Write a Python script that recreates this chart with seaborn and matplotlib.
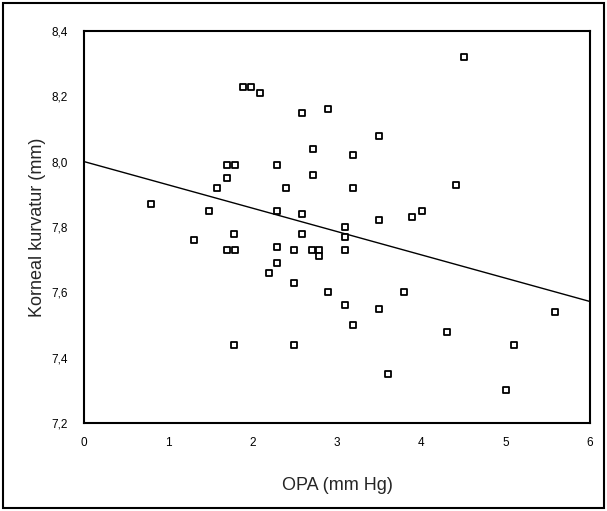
import matplotlib
matplotlib.use("Agg")
import matplotlib.pyplot as plt
import seaborn as sns
import pandas as pd
from matplotlib.patches import Rectangle

# Data
opa = [4.50, 1.88, 1.98, 2.09, 2.89, 2.59, 3.50, 2.71, 3.19, 1.69,
       1.79, 2.29, 2.71, 1.69, 2.39, 1.58, 3.19, 4.41, 0.79, 1.48,
       2.29, 2.59, 4.01, 3.89, 3.50, 3.09, 1.78, 2.59, 3.09, 1.30,
       1.69, 1.79, 2.29, 2.49, 2.70, 2.79, 2.79, 3.09, 2.29, 2.19,
       2.49, 2.89, 3.79, 3.09, 3.50, 5.59, 3.19, 4.30, 1.78, 2.49,
       5.10, 3.61, 5.00]
kurvatur = [8.32, 8.23, 8.23, 8.21, 8.16, 8.15, 8.08, 8.04, 8.02, 7.99,
            7.99, 7.99, 7.96, 7.95, 7.92, 7.92, 7.92, 7.93, 7.87, 7.85,
            7.85, 7.84, 7.85, 7.83, 7.82, 7.80, 7.78, 7.78, 7.77, 7.76,
            7.73, 7.73, 7.74, 7.73, 7.73, 7.73, 7.71, 7.73, 7.69, 7.66,
            7.63, 7.60, 7.60, 7.56, 7.55, 7.54, 7.50, 7.48, 7.44, 7.44,
            7.44, 7.35, 7.30]

x_ticks = [0, 1, 2, 3, 4, 5, 6]
y_ticks = [7.2, 7.4, 7.6, 7.8, 8.0, 8.2, 8.4]
y_tick_labels = ["7,2", "7,4", "7,6", "7,8", "8,0", "8,2", "8,4"]

df = pd.DataFrame({"OPA": opa, "Kurvatur": kurvatur})

sns.set_style("white")
plt.rcParams["font.family"] = ["Liberation Sans", "DejaVu Sans"]

fig = plt.figure(figsize=(6.07, 5.11), dpi=100)
ax = fig.add_axes([84 / 607, 1 - 423 / 511, 506 / 607, 392 / 511])
ax.set_xlim(0, 6)
ax.set_ylim(7.2, 8.4)

sns.regplot(data=df, x="OPA", y="Kurvatur", ax=ax, scatter=False, ci=None,
            truncate=False, line_kws={"color": "black", "lw": 1.0})
sns.scatterplot(data=df, x="OPA", y="Kurvatur", ax=ax, marker="s", s=24,
                facecolor="white", edgecolor="black", linewidth=1.3, zorder=3)

ax.set_xlim(0, 6)
ax.set_ylim(7.2, 8.4)
ax.set_xticks(x_ticks)
ax.set_xticklabels([str(t) for t in x_ticks])
ax.set_yticks(y_ticks)
ax.set_yticklabels(y_tick_labels)
ax.tick_params(axis="both", length=0, labelsize=8.5, colors="black")
ax.tick_params(axis="y", pad=11.5)
ax.tick_params(axis="x", pad=10)
ax.set_xlabel("OPA (mm Hg)", fontsize=13, labelpad=20)
ax.set_ylabel("Korneal kurvatur (mm)", fontsize=13, labelpad=4)
for sp in ax.spines.values():
    sp.set_visible(True)
    sp.set_color("black")
    sp.set_linewidth(1.5)

fig.patches.append(Rectangle((3 / 607, 3 / 511), 601 / 607, 505 / 511,
                             transform=fig.transFigure, fill=False,
                             edgecolor="black", linewidth=1.5))

fig.savefig("out.png", dpi=100)
